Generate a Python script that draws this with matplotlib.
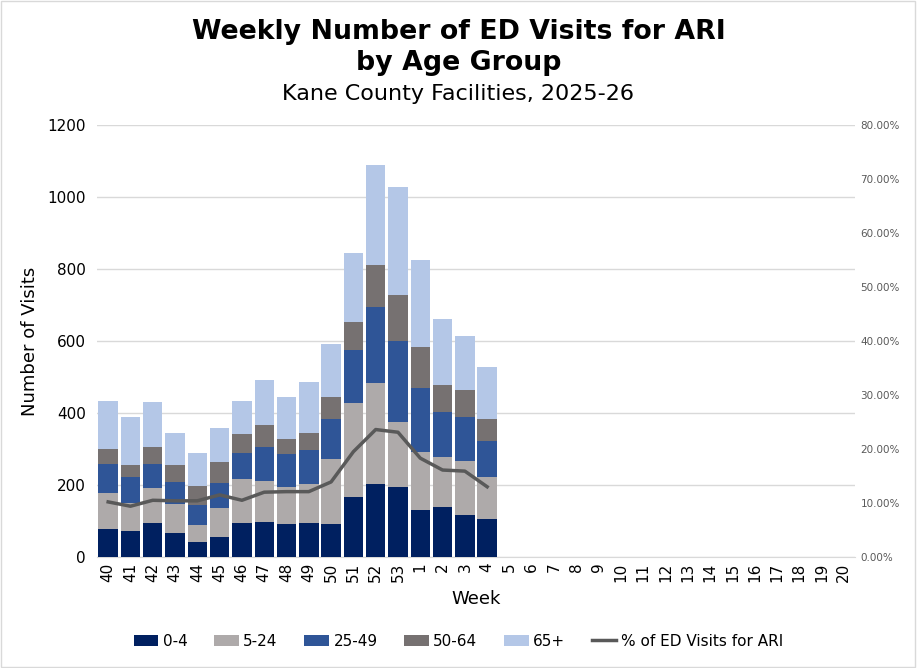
import matplotlib
matplotlib.use("Agg")
import matplotlib.pyplot as plt
import numpy as np

weeks = ["40","41","42","43","44","45","46","47","48","49","50","51","52","53",
         "1","2","3","4","5","6","7","8","9","10","11","12","13","14","15","16","17","18","19","20"]
age_0_4   = [77, 72, 94, 67, 42, 56, 94, 97, 92, 94, 92, 167, 203, 194, 131, 139, 117, 106]
age_5_24  = [101, 77, 98, 81, 47, 80, 123, 114, 102, 109, 180, 261, 280, 181, 161, 139, 150, 116]
age_25_49 = [80, 73, 66, 60, 55, 70, 72, 95, 92, 94, 111, 147, 211, 225, 177, 125, 122, 100]
age_50_64 = [42, 34, 48, 48, 53, 58, 53, 61, 42, 47, 61, 78, 117, 128, 114, 75, 75, 61]
age_65p   = [133, 133, 125, 88, 92, 94, 91, 125, 116, 142, 148, 191, 278, 300, 242, 183, 150, 145]
pct_ari   = [10.2, 9.4, 10.5, 10.4, 10.4, 11.5, 10.5, 12.0, 12.1, 12.1, 13.9, 19.5, 23.6, 23.1, 18.3, 16.1, 15.9, 13.0]

series = [("0-4", age_0_4, "#002060"),
          ("5-24", age_5_24, "#AEAAAA"),
          ("25-49", age_25_49, "#2F5597"),
          ("50-64", age_50_64, "#767171"),
          ("65+", age_65p, "#B4C7E7")]

fig = plt.figure(figsize=(9.17, 6.68), dpi=100)
ax = fig.add_axes([0.1058, 0.1662, 0.8266, 0.6467])
x_all = np.arange(len(weeks))
n = len(age_0_4)
x = np.arange(n)
bottom = np.zeros(n)
handles = []
for name, vals, col in series:
    b = ax.bar(x, vals, bottom=bottom, width=0.87, color=col, label=name, zorder=3)
    handles.append(b)
    bottom += np.array(vals)

ax.set_xlim(-0.5, len(weeks) - 0.5)
ax.set_ylim(0, 1200)
ax.set_yticks(range(0, 1201, 200))
ax.yaxis.grid(True, color="#D9D9D9", linewidth=1, zorder=0)
ax.set_axisbelow(True)
ax.set_xticks(x_all)
ax.set_xticklabels(weeks, rotation=90, fontsize=11)
ax.tick_params(axis="y", labelsize=11, length=0, pad=8)
ax.tick_params(axis="x", length=0, pad=4)
for s in ["top", "right", "left"]:
    ax.spines[s].set_visible(False)
ax.spines["bottom"].set_color("#D9D9D9")
ax.set_ylabel("Number of Visits", fontsize=13, labelpad=6)
ax.set_xlabel("Week", fontsize=13, labelpad=6)

ax2 = ax.twinx()
ln, = ax2.plot(x, pct_ari, color="#595959", linewidth=2.5, zorder=5, label="% of ED Visits for ARI")
ax2.set_ylim(0, 80)
ax2.set_yticks(range(0, 81, 10))
ax2.set_yticklabels([f"{v:.2f}%" for v in range(0, 81, 10)])
ax2.tick_params(axis="y", labelsize=7.5, length=0, pad=4, labelcolor="#595959")
for s in ["top", "right", "left", "bottom"]:
    ax2.spines[s].set_visible(False)

fig.text(0.5, 0.952, "Weekly Number of ED Visits for ARI", ha="center", va="center",
         fontsize=19.3, fontweight="bold")
fig.text(0.5, 0.905, "by Age Group", ha="center", va="center", fontsize=19.3, fontweight="bold")
fig.text(0.5, 0.859, "Kane County Facilities, 2025-26", ha="center", va="center", fontsize=16)

fig.legend(handles + [ln], [h.get_label() for h in handles] + [ln.get_label()],
           loc="center", bbox_to_anchor=(0.5, 0.04), ncol=6, frameon=False, fontsize=11,
           handlelength=1.6, handletextpad=0.3, columnspacing=1.75)

fig.patches.append(plt.Rectangle((0.001, 0.001), 0.997, 0.997, transform=fig.transFigure,
                                 fill=False, edgecolor="#D9D9D9", linewidth=1))
fig.savefig("out.png", dpi=100)
